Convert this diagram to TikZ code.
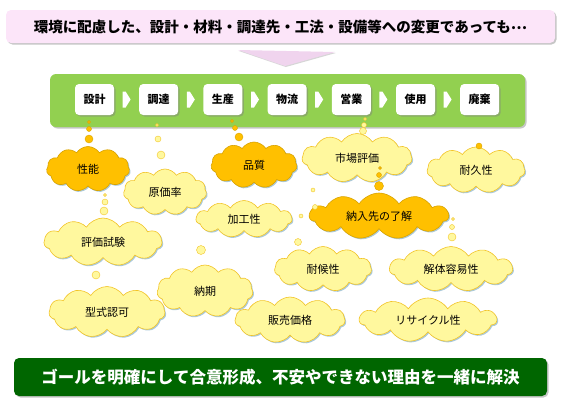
\documentclass[tikz,border=0pt]{standalone}
\usepackage{fontspec}
\setmainfont{Noto Sans CJK JP}
\usetikzlibrary{shapes.symbols,shadows,calc}

\definecolor{bannerpink}{RGB}{252,229,249}
\definecolor{arrowpink}{RGB}{240,212,238}
\definecolor{flowgreen}{RGB}{146,208,80}
\definecolor{goalgreen}{RGB}{0,102,0}
\definecolor{puffyellow}{RGB}{255,248,158}
\definecolor{puffedge}{RGB}{242,196,40}
\definecolor{puffamber}{RGB}{255,192,0}
\definecolor{glow}{RGB}{150,188,208}

\begin{document}
\begin{tikzpicture}[x=1pt,y=-1pt,
  boxshadow/.style={drop shadow={shadow xshift=1.5pt,shadow yshift=-1.5pt,fill=black!50,opacity=.45}},
  stepbox/.style={fill=white,rounded corners=4pt,minimum width=39pt,minimum height=31pt,inner sep=0pt,
    font=\fontsize{11}{11}\selectfont\bfseries,boxshadow},
  puff/.style={cloud,cloud puffs=11,cloud puff arc=115,cloud ignores aspect,inner sep=0pt,
    draw=puffedge,line width=.6pt,fill=puffyellow,font=\fontsize{11}{11}\selectfont,
    drop shadow={shadow xshift=1.2pt,shadow yshift=-1.2pt,fill=glow,opacity=.8}},
  hotpuff/.style={puff,fill=puffamber,draw=puffamber!85!black},
  ybub/.style={fill=puffyellow,draw=puffedge,line width=.4pt},
  obub/.style={fill=puffamber,draw=puffamber!85!black,line width=.4pt}]
  \useasboundingbox (0,0) rectangle (561,407);

  % top message and pointer
  \node[fill=bannerpink,rounded corners=5pt,minimum width=549pt,minimum height=33pt,boxshadow,
    font=\fontsize{14.5}{14.5}\selectfont\bfseries] (change) at (280.5,26.5)
    {環境に配慮した、設計・材料・調達先・工法・設備等への変更であっても\raisebox{.35ex}{…}};
  \fill[arrowpink,drop shadow={shadow xshift=.8pt,shadow yshift=-1pt,fill=black!40,opacity=.4}]
    (238,50) -- (335,52) -- (285,66) -- cycle;

  % process flow
  \node[fill=flowgreen,rounded corners=6pt,minimum width=475pt,minimum height=53pt,boxshadow] (flow) at (287.5,100.5) {};
  \foreach \name/\lbl [count=\i from 0] in {design/設計,procure/調達,produce/生産,logistics/物流,sales/営業,usage/使用,disposal/廃棄}
    \node[stepbox] (\name) at ({94.5+64.2*\i},99.5) {\lbl};
  \foreach \a/\b in {design/procure,procure/produce,produce/logistics,logistics/sales,sales/usage,usage/disposal}
    \fill[white] ($(\a.east)!.5!(\b.west)$) ++(-4,-8) -- ++(3,0) -- ++(5,8) -- ++(-5,8) -- ++(-3,0) -- cycle;

  % clouds
  \node[hotpuff,minimum width=83pt,minimum height=45pt] (perf) at (88,169) {性能};
  \node[puff,minimum width=83pt,minimum height=46pt] (cost) at (165,192) {原価率};
  \node[hotpuff,minimum width=86pt,minimum height=46pt] (quality) at (254,165) {品質};
  \node[puff,minimum width=96pt,minimum height=37pt] (workab) at (244,219) {加工性};
  \node[puff,minimum width=110pt,minimum height=49pt] (market) at (357,158) {市場評価};
  \node[puff,minimum width=98pt,minimum height=46pt] (durab) at (476,170) {耐久性};
  \node[hotpuff,minimum width=139pt,minimum height=46pt] (consent) at (379,216) {納入先の了解};
  \node[puff,minimum width=118pt,minimum height=48pt] (evaltest) at (103,242) {評価試験};
  \node[puff,minimum width=97pt,minimum height=45pt] (weather) at (323,269) {耐候性};
  \node[puff,minimum width=123pt,minimum height=45pt] (disasm) at (451,269) {解体容易性};
  \node[puff,minimum width=96pt,minimum height=52pt] (delivery) at (205,291) {納期};
  \node[puff,minimum width=116pt,minimum height=51pt] (typeappr) at (107,312) {型式認可};
  \node[puff,minimum width=110pt,minimum height=46pt] (price) at (290,320) {販売価格};
  \node[puff,minimum width=137pt,minimum height=44pt] (recycle) at (428,320) {リサイクル性};

  % thought bubbles
  \foreach \x/\y/\r in {89/122/1.5,89/129/2.5,89/139/4,232/121/1.5,235/128/2.5,239/137/4,
      380/168/1.5,379/175/2.5,379/186/4.5,479/146/3}
    \filldraw[obub] (\x,\y) circle (\r pt);
  \foreach \x/\y/\r in {157/125/1.5,158/139/3,161/155/4,365/119/1.5,364/125/2.5,363/131/3.5,
      105/195/1.5,105/202/3,104/211/4,313/190/2,315/207/2.5,301/216/2,
      453/219/1.5,452/227/2.5,452/237/4,96/275/4,201/250/4.5,298/242/3.5}
    \filldraw[ybub] (\x,\y) circle (\r pt);

  % goal
  \node[fill=goalgreen,rounded corners=5pt,minimum width=533pt,minimum height=38pt,boxshadow,text=white,
    font=\fontsize{16.5}{16.5}\selectfont\bfseries] (goal) at (280.5,377)
    {ゴールを明確にして合意形成、不安やできない理由を一緒に解決};
\end{tikzpicture}
\end{document}
